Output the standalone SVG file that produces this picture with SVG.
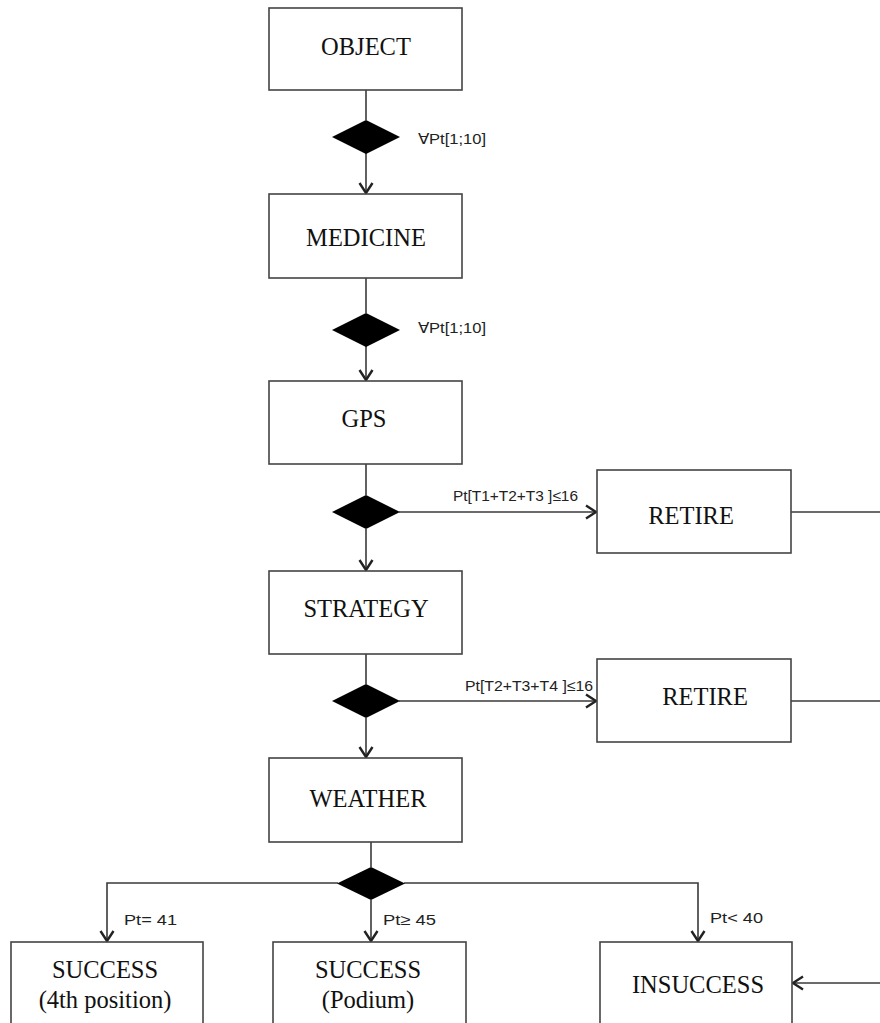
<svg xmlns="http://www.w3.org/2000/svg" width="880" height="1023" viewBox="0 0 880 1023">
<style>
.box{fill:#fff;stroke:#444;stroke-width:1.6}
.dia{fill:#000;stroke:none}
.ln{fill:none;stroke:#3a3a3a;stroke-width:1.6}
.t{font-family:"Liberation Serif","Times New Roman",serif;font-size:24.5px;fill:#111;text-anchor:middle}
.s{font-family:"Liberation Sans",Arial,sans-serif;font-size:15px;fill:#222}
</style>
<defs>
<marker id="ah" markerUnits="userSpaceOnUse" markerWidth="16" markerHeight="16" viewBox="-12 -8 14 16" refX="0" refY="0" orient="auto">
<path d="M-10,-6.5 L0,0 L-10,6.5" fill="none" stroke="#222" stroke-width="2.4"/>
</marker>
</defs>
<rect width="880" height="1023" fill="#fff"/>
<g id="connectors">
<line class="ln" x1="366" y1="90" x2="366" y2="120"/>
<line class="ln" x1="366" y1="153" x2="366" y2="193" marker-end="url(#ah)"/>
<line class="ln" x1="366" y1="278" x2="366" y2="313"/>
<line class="ln" x1="366" y1="346" x2="366" y2="380" marker-end="url(#ah)"/>
<line class="ln" x1="366" y1="464" x2="366" y2="495"/>
<line class="ln" x1="366" y1="529" x2="366" y2="570" marker-end="url(#ah)"/>
<line class="ln" x1="399" y1="512" x2="596" y2="512" marker-end="url(#ah)"/>
<line class="ln" x1="791" y1="512" x2="880" y2="512"/>
<line class="ln" x1="366" y1="654" x2="366" y2="684"/>
<line class="ln" x1="366" y1="718" x2="366" y2="757" marker-end="url(#ah)"/>
<line class="ln" x1="399" y1="701" x2="596" y2="701" marker-end="url(#ah)"/>
<line class="ln" x1="791" y1="701" x2="880" y2="701"/>
<line class="ln" x1="371" y1="842" x2="371" y2="867"/>
<polyline class="ln" points="338,883 107,883 107,941" marker-end="url(#ah)"/>
<line class="ln" x1="371" y1="900" x2="371" y2="941" marker-end="url(#ah)"/>
<polyline class="ln" points="404,883 698,883 698,941" marker-end="url(#ah)"/>
<line class="ln" x1="880" y1="983" x2="793" y2="983" marker-end="url(#ah)"/>
<polygon class="dia" points="366,120 400,137 366,154 332,137"/>
<polygon class="dia" points="366,313 400,330 366,347 332,330"/>
<polygon class="dia" points="366,495 400,512 366,529 332,512"/>
<polygon class="dia" points="366,684 400,701 366,718 332,701"/>
<polygon class="dia" points="371,867 405,883.5 371,900 337,883.5"/>
<text class="s" x="418" y="144" textLength="68" lengthAdjust="spacingAndGlyphs">∀Pt[1;10]</text>
<text class="s" x="418" y="333" textLength="68" lengthAdjust="spacingAndGlyphs">∀Pt[1;10]</text>
<text class="s" x="453" y="501" textLength="125" lengthAdjust="spacingAndGlyphs">Pt[T1+T2+T3 ]≤16</text>
<text class="s" x="465" y="691" textLength="128" lengthAdjust="spacingAndGlyphs">Pt[T2+T3+T4 ]≤16</text>
<text class="s" x="124" y="925" font-size="16" textLength="53" lengthAdjust="spacingAndGlyphs">Pt= 41</text>
<text class="s" x="383" y="925" font-size="16" textLength="53" lengthAdjust="spacingAndGlyphs">Pt≥ 45</text>
<text class="s" x="710" y="923" font-size="16" textLength="53" lengthAdjust="spacingAndGlyphs">Pt&lt; 40</text>
</g>
<g id="object"><rect class="box" x="269" y="8" width="193" height="82"/><text class="t" x="366" y="55">OBJECT</text></g>
<g id="medicine"><rect class="box" x="269" y="194" width="193" height="84"/><text class="t" x="366" y="246">MEDICINE</text></g>
<g id="gps"><rect class="box" x="269" y="381" width="193" height="83"/><text class="t" x="364" y="427">GPS</text></g>
<g id="strategy"><rect class="box" x="269" y="571" width="193" height="83"/><text class="t" x="366" y="617">STRATEGY</text></g>
<g id="weather"><rect class="box" x="269" y="758" width="193" height="84"/><text class="t" x="368" y="807">WEATHER</text></g>
<g id="retire1"><rect class="box" x="597" y="470" width="194" height="83"/><text class="t" x="691" y="524">RETIRE</text></g>
<g id="retire2"><rect class="box" x="597" y="659" width="194" height="83"/><text class="t" x="705" y="705">RETIRE</text></g>
<g id="success4"><rect class="box" x="11" y="942" width="192" height="100"/><text class="t" x="105" y="978">SUCCESS</text><text class="t" x="105" y="1008">(4th position)</text></g>
<g id="successPodium"><rect class="box" x="273" y="942" width="193" height="100"/><text class="t" x="368" y="978">SUCCESS</text><text class="t" x="368" y="1008">(Podium)</text></g>
<g id="insuccess"><rect class="box" x="600" y="942" width="192" height="100"/><text class="t" x="698" y="993">INSUCCESS</text></g>
</svg>
